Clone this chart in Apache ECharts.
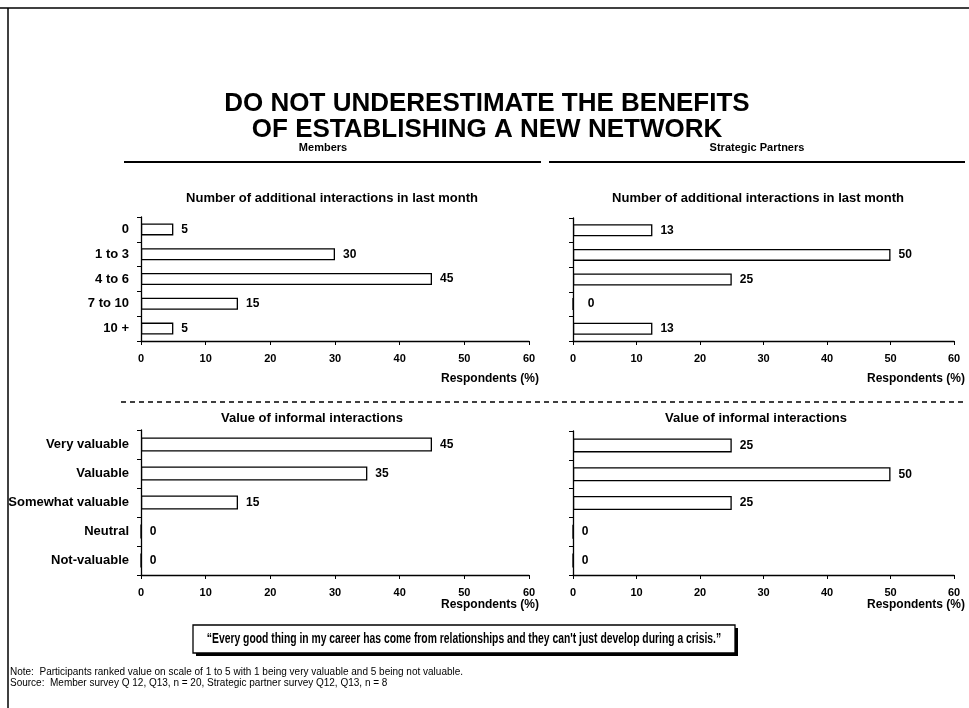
<!DOCTYPE html>
<html>
<head>
<meta charset="utf-8">
<script src="https://cdn.jsdelivr.net/npm/echarts@6/dist/echarts.min.js"></script>
<style>html,body{margin:0;padding:0;background:#fff}#c{width:969px;height:708px}</style>
</head>
<body>
<div id="c"></div>
<script>
// ---- data ----
const interactionCats = ['0', '1 to 3', '4 to 6', '7 to 10', '10 +'];
const valueCats = ['Very valuable', 'Valuable', 'Somewhat valuable', 'Neutral', 'Not-valuable'];
const membersInteractions = [5, 30, 45, 15, 5];
const partnersInteractions = [12.5, 50, 25, 0, 12.5];
const membersValue = [45, 35, 15, 0, 0];
const partnersValue = [25, 50, 25, 0, 0];
const xTickLabels = ['0', '10', '20', '30', '40', '50', '60'];
const titleLines = ['DO NOT UNDERESTIMATE THE BENEFITS', 'OF ESTABLISHING A NEW NETWORK'];
const groupNames = ['Members', 'Strategic Partners'];
const chartTitles = ['Number of additional interactions in last month', 'Value of informal interactions'];
const axisName = 'Respondents (%)';
const quote = '\u201CEvery good thing in my career has come from relationships and they can\'t just develop during a crisis.\u201D';
const notes = ['Note:  Participants ranked value on scale of 1 to 5 with 1 being very valuable and 5 being not valuable.',
               'Source:  Member survey Q 12, Q13, n = 20, Strategic partner survey Q12, Q13, n = 8'];

const FF = "'Liberation Sans', Arial, sans-serif";
const panels = [
  {cats: interactionCats, data: membersInteractions, showCats: true, grid: {left: 141, top: 217, width: 388, height: 124}, bw: 12, zeroGap: 8},
  {cats: interactionCats, data: partnersInteractions, showCats: false, grid: {left: 573, top: 218, width: 381, height: 123}, bw: 12, zeroGap: 14},
  {cats: valueCats, data: membersValue, showCats: true, grid: {left: 141, top: 430, width: 388, height: 145}, bw: 14, zeroGap: 8},
  {cats: valueCats, data: partnersValue, showCats: false, grid: {left: 573, top: 431, width: 381, height: 144}, bw: 14, zeroGap: 8}
];

const chart = echarts.init(document.getElementById('c'), null, {renderer: 'canvas'});

const grid = panels.map(p => Object.assign({outerBoundsMode: 'none', containLabel: false}, p.grid));
const xAxis = panels.map((p, i) => ({
  type: 'value', gridIndex: i, min: 0, max: 60, interval: 10,
  axisLine: {show: true, lineStyle: {color: '#000', width: 1.3}},
  axisTick: {show: true, length: 4, lineStyle: {color: '#000', width: 1}},
  splitLine: {show: false},
  axisLabel: {color: '#000', fontWeight: 'bold', fontSize: 11, fontFamily: FF, margin: 12,
              formatter: v => xTickLabels[Math.round(v / 10)]}
}));
const yAxis = panels.map((p, i) => ({
  type: 'category', gridIndex: i, data: p.cats, inverse: true,
  axisLine: {show: true, lineStyle: {color: '#000', width: 1.3}},
  axisTick: {show: true, length: 4, alignWithLabel: false, lineStyle: {color: '#000', width: 1}},
  splitLine: {show: false},
  axisLabel: {show: p.showCats, color: '#000', fontWeight: 'bold', fontSize: 13, fontFamily: FF, margin: 12}
}));
const series = panels.map((p, i) => ({
  type: 'bar', xAxisIndex: i, yAxisIndex: i, barWidth: p.bw, silent: true,
  data: p.data.map(v => v === 0 ? {value: v, label: {distance: p.zeroGap}} : v),
  itemStyle: {color: '#fff', borderColor: '#000', borderWidth: 1.3},
  label: {show: true, position: 'right', distance: 8, color: '#000', fontWeight: 'bold', fontSize: 12, fontFamily: FF,
          formatter: q => String(Math.round(q.value))}
}));

function txt(text, x, y, font, align, sx) {
  return {type: 'text', silent: true, x: x, y: y, scaleX: sx || 1,
          style: {text: text, x: 0, y: 0, font: font, fill: '#000',
                  textAlign: align || 'center', textVerticalAlign: 'middle'}};
}
function ln(x1, y1, x2, y2, w, dash) {
  return {type: 'line', silent: true, shape: {x1: x1, y1: y1, x2: x2, y2: y2},
          style: {stroke: '#000', lineWidth: w, lineDash: dash || null}};
}
const B = (s) => 'bold ' + s + 'px ' + FF;

const graphic = [
  ln(0, 8, 969, 8, 1.5), ln(8, 8, 8, 708, 1.5),
  txt(titleLines[0], 487, 104, B(26)),
  txt(titleLines[1], 487, 130, B(26)),
  txt(groupNames[0], 323, 148, B(11)),
  txt(groupNames[1], 757, 148, B(11)),
  ln(124, 162, 541, 162, 2), ln(549, 162, 965, 162, 2),
  txt(chartTitles[0], 332, 198, B(13)),
  txt(chartTitles[0], 758, 198, B(13)),
  txt(chartTitles[1], 312, 418, B(13)),
  txt(chartTitles[1], 756, 418, B(13)),
  txt(axisName, 539, 379, B(12), 'right'),
  txt(axisName, 965, 379, B(12), 'right'),
  txt(axisName, 539, 605, B(12), 'right'),
  txt(axisName, 965, 605, B(12), 'right'),
  ln(121, 402, 965, 402, 1.3, [5, 4]),
  {type: 'rect', silent: true, shape: {x: 196, y: 628, width: 542, height: 28}, style: {fill: '#000'}},
  {type: 'rect', silent: true, shape: {x: 193, y: 625, width: 542, height: 28}, style: {fill: '#fff', stroke: '#000', lineWidth: 1.3}},
  txt(quote, 464, 639, B(15), 'center', 0.69),
  txt(notes[0], 10, 672, '10px ' + FF, 'left'),
  txt(notes[1], 10, 683, '10px ' + FF, 'left')
];

chart.setOption({
  animation: false,
  backgroundColor: '#fff',
  grid: grid, xAxis: xAxis, yAxis: yAxis, series: series, graphic: graphic
});
</script>
</body>
</html>
